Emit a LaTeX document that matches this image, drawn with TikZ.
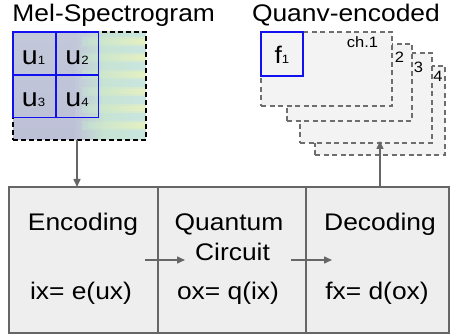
\documentclass[tikz,border=0pt]{standalone}
\usepackage{fontspec}
\setmainfont{Liberation Sans}[FakeStretch=1.1]
\usetikzlibrary{arrows.meta}

\definecolor{edgegray}{HTML}{666666}
\definecolor{framegray}{HTML}{6E6E6E}
\definecolor{cellfill}{HTML}{EEEEEE}
\definecolor{framefill}{HTML}{F3F3F3}
\definecolor{gridblue}{HTML}{1010F0}
\definecolor{specleft}{HTML}{C2C8DA}
\definecolor{speclow}{HTML}{BDC0D6}
\definecolor{specmid}{HTML}{C6E3D3}
\definecolor{specright}{HTML}{CAE6E0}
\definecolor{specyellow}{HTML}{F1F5B6}

\tikzset{
  every node/.style={inner sep=0pt, outer sep=0pt},
  title/.style={font=\fontsize{24}{24}\selectfont, anchor=base west},
  body/.style={font=\fontsize{24}{24}\selectfont, anchor=base},
  patchlabel/.style={font=\fontsize{26}{26}\selectfont, anchor=base},
  small/.style={font=\fontsize{15}{15}\selectfont, anchor=base},
  specbox/.style={draw=black, line width=1.3pt, dash pattern=on 5pt off 3pt,
    minimum width=133pt, minimum height=108pt},
  gridcell/.style={draw=gridblue, line width=1.5pt, minimum width=43pt, minimum height=43pt},
  chanframe/.style={draw=framegray, fill=framefill, line width=1.3pt,
    dash pattern=on 5pt off 3.5pt, anchor=north west},
  stage/.style={draw=edgegray, fill=cellfill, line width=1.5pt, anchor=north west,
    minimum height=146pt},
  arr/.style={draw=edgegray, line width=1.5pt, -{Triangle[length=8pt,width=7pt]}},
}
\newcommand{\ssub}[1]{{\fontsize{12}{12}\selectfont #1}}

\begin{document}
\begin{tikzpicture}[x=1pt, y=-1pt]
\useasboundingbox (0,0) rectangle (450,334);

% headings
\node[title] (melhead) at (12.5,22) {Mel-Spectrogram};
\node[title] (quanvhead) at (252,22) {Quanv-encoded};

% spectrogram image area: soft colour field with blurred horizontal bands
\begin{scope}
  \clip (13,32) rectangle (146,140);
  \shade[top color=specleft, bottom color=speclow] (13,32) rectangle (76,140);
  \shade[left color=specleft, right color=specmid] (75,32) rectangle (104,140);
  \shade[left color=specmid, right color=specright] (103,32) rectangle (146,140);
  \shade[left color=speclow, right color=specmid, opacity=0.6] (75,118) rectangle (104,140);
  \foreach \yy in {42,58,75,92,109,126} {
    \shade[left color=specmid, right color=specyellow, opacity=0.45]
      (82,\yy-4) rectangle (146,\yy+4);
    \shade[left color=specmid, right color=specyellow, opacity=0.5]
      (88,\yy-2) rectangle (146,\yy+2);
  }
\end{scope}
\node[specbox] (spec) at (79.5,86) {};

% 2x2 patch grid
\node[gridcell] (g1) at (34.5,53.5) {};
\node[gridcell] (g2) at (77,53.5) {};
\node[gridcell] (g3) at (34.5,96) {};
\node[gridcell] (g4) at (77,96) {};
\node[patchlabel] (u1) at (33.5,65) {u\ssub{1}};
\node[patchlabel] (u2) at (77,65) {u\ssub{2}};
\node[patchlabel] (u3) at (33.5,106.5) {u\ssub{3}};
\node[patchlabel] (u4) at (77,106.5) {u\ssub{4}};

% stacked output channels, back to front
\node[chanframe, minimum width=130pt, minimum height=89pt] (ch4) at (315,66) {};
\node[chanframe, minimum width=132pt, minimum height=90pt] (ch3) at (300,53) {};
\node[chanframe, minimum width=125pt, minimum height=77pt] (ch2) at (287,44) {};
\node[chanframe, minimum width=131pt, minimum height=74pt] (ch1) at (261,32) {};
\node[draw=gridblue, line width=1.5pt, anchor=north west,
  minimum width=42pt, minimum height=44pt] (f1box) at (261,32) {};
\node[body] (f1) at (282,64) {f\ssub{1}};
\node[small] (lab1) at (362.5,48) {ch.1};
\node[small] (lab2) at (399.5,63) {2};
\node[small] (lab3) at (418.5,73) {3};
\node[small] (lab4) at (438,82) {4};

% processing stages
\node[stage, minimum width=149pt] (enc) at (9,187) {};
\node[stage, minimum width=148pt] (qc) at (158,187) {};
\node[stage, minimum width=143pt] (dec) at (306,187) {};

\node[body] (enct) at (83,230) {Encoding};
\node[body] (encf) at (81,299) {ix= e(ux)};
\node[body] (qct1) at (229,230) {Quantum};
\node[body] (qct2) at (232.5,260) {Circuit};
\node[body] (qcf) at (228,299) {ox= q(ix)};
\node[body] (dect) at (380,230) {Decoding};
\node[body] (decf) at (377,299) {fx= d(ox)};

% connectors
\coordinate (dn) at (77,0);
\draw[arr] (spec.south -| dn) -- (enc.north -| dn);
\coordinate (upend) at (380,141);
\draw[arr] (dec.north -| upend) -- (upend);
\coordinate (a1s) at (145,260);
\coordinate (a1e) at (185,260);
\coordinate (a2s) at (291,260);
\coordinate (a2e) at (332,260);
\draw[arr] (a1s) -- (a1e);
\draw[arr] (a2s) -- (a2e);
\end{tikzpicture}
\end{document}
